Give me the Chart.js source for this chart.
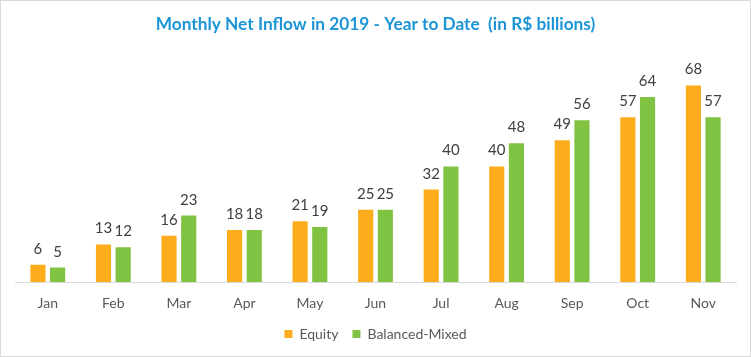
<!DOCTYPE html>
<html>
<head>
<meta charset="utf-8">
<script src="https://cdn.jsdelivr.net/npm/chart.js@4.4.1/dist/chart.umd.min.js"></script>
<style>
  html, body { margin: 0; padding: 0; background: #fff; }
  #wrap { width: 751px; height: 357px; box-sizing: border-box; border: 1px solid #D9D9D9; position: relative; }
  canvas { display: block; }
</style>
</head>
<body>
<div id="wrap"><canvas id="c" width="749" height="355"></canvas></div>
<script>
const categories = ["Jan", "Feb", "Mar", "Apr", "May", "Jun", "Jul", "Aug", "Sep", "Oct", "Nov"];
const equity = [6, 13, 16, 18, 21, 25, 32, 40, 49, 57, 68];
const balancedMixed = [5, 12, 23, 18, 19, 25, 40, 48, 56, 64, 57];
const seriesNames = ["Equity", "Balanced-Mixed"];
const titleText = "Monthly Net Inflow in 2019 - Year to Date  (in R$ billions)";

const FONT = "Lato, 'Open Sans', sans-serif";

const valueLabels = {
  id: 'valueLabels',
  afterDatasetsDraw(chart) {
    const ctx = chart.ctx;
    ctx.save();
    ctx.font = "15px " + FONT;
    ctx.fillStyle = "#404040";
    ctx.textAlign = "center";
    ctx.textBaseline = "alphabetic";
    chart.data.datasets.forEach((ds, i) => {
      const meta = chart.getDatasetMeta(i);
      meta.data.forEach((bar, j) => {
        ctx.fillText(String(ds.data[j]), bar.x, bar.y - 11);
      });
    });
    ctx.restore();
  }
};

new Chart(document.getElementById('c'), {
  type: 'bar',
  data: {
    labels: categories,
    datasets: [
      { label: seriesNames[0], data: equity, backgroundColor: "#FDAC1C", borderWidth: 0 },
      { label: seriesNames[1], data: balancedMixed, backgroundColor: "#80C242", borderWidth: 0 }
    ]
  },
  options: {
    responsive: false,
    animation: false,
    devicePixelRatio: 1,
    categoryPercentage: 0.6,
    barPercentage: 0.77,
    layout: { padding: { left: 14, right: 14, top: 0, bottom: 5 } },
    plugins: {
      title: {
        display: true,
        text: titleText,
        color: "#1B95D6",
        font: { family: FONT, size: 17.3, weight: 'bold' },
        padding: { top: 13, bottom: 16 }
      },
      legend: {
        position: 'bottom',
        labels: {
          boxWidth: 8, boxHeight: 8,
          color: "#595959",
          font: { family: FONT, size: 14 },
          padding: 14
        }
      },
      tooltip: { enabled: false }
    },
    scales: {
      x: {
        grid: { display: false, drawTicks: false },
        border: { display: true, color: "#D9D9D9", width: 1 },
        ticks: { color: "#595959", font: { family: FONT, size: 14 }, padding: 13 },
        afterFit(scale) { scale.height = 31; }
      },
      y: {
        display: false,
        min: 0,
        max: 80
      }
    }
  },
  plugins: [valueLabels]
});
</script>
</body>
</html>
